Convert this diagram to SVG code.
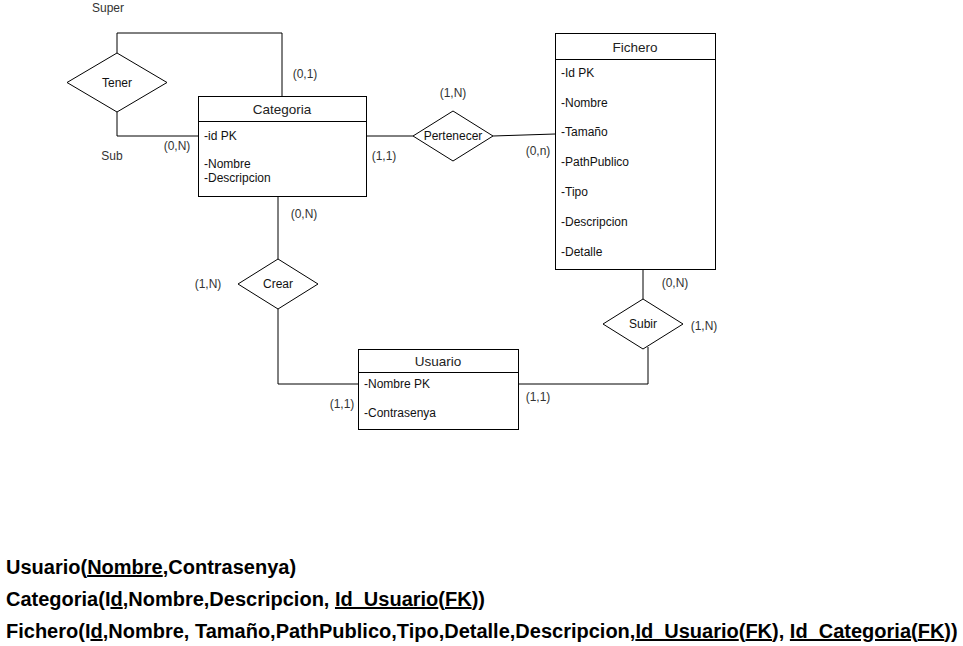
<svg xmlns="http://www.w3.org/2000/svg" width="963" height="646" viewBox="0 0 963 646">
<style>
text{font-family:"Liberation Sans",Arial,sans-serif;fill:#000}
.box{fill:#fff;stroke:#000;stroke-width:1}
.rel{fill:#fff;stroke:#000;stroke-width:1}
.ln{fill:none;stroke:#000;stroke-width:1}
.t{font-size:13.5px;text-anchor:middle;fill:#222}
.a{font-size:12px;fill:#111}
.l{font-size:12px;fill:#333}
.c{text-anchor:middle}
.big{font-size:20px;font-weight:bold}
.u{text-decoration:underline}
</style>
<rect width="963" height="646" fill="#fff"/>
<g id="connectors">
<polyline class="ln" points="117,53 117,33 282,33 282,96"/>
<polyline class="ln" points="117,112 117,136 198,136"/>
<line class="ln" x1="366" y1="136" x2="413" y2="136"/>
<line class="ln" x1="493" y1="136" x2="555" y2="134"/>
<line class="ln" x1="278" y1="196" x2="278" y2="259"/>
<polyline class="ln" points="278,309 278,384 358,384"/>
<line class="ln" x1="643" y1="269" x2="643" y2="299"/>
<polyline class="ln" points="648,347 648,384 518,384"/>
</g>
<g id="categoria">
<rect class="box" x="198.5" y="96.5" width="168" height="100"/>
<line class="ln" x1="198.5" y1="121.5" x2="366.5" y2="121.5"/>
<text class="t" x="282" y="114">Categoria</text>
<text class="a" x="204" y="140">-id PK</text>
<text class="a" x="204" y="168">-Nombre</text>
<text class="a" x="204" y="182">-Descripcion</text>
</g>
<g id="fichero">
<rect class="box" x="555.5" y="33.5" width="160" height="236"/>
<line class="ln" x1="555.5" y1="59.5" x2="715.5" y2="59.5"/>
<text class="t" x="635" y="52">Fichero</text>
<text class="a" x="561" y="77">-Id PK</text>
<text class="a" x="561" y="107">-Nombre</text>
<text class="a" x="561" y="136">-Tamaño</text>
<text class="a" x="561" y="166">-PathPublico</text>
<text class="a" x="561" y="196">-Tipo</text>
<text class="a" x="561" y="226">-Descripcion</text>
<text class="a" x="561" y="256">-Detalle</text>
</g>
<g id="usuario">
<rect class="box" x="358.5" y="349.5" width="160" height="80"/>
<line class="ln" x1="358.5" y1="372.5" x2="518.5" y2="372.5"/>
<text class="t" x="438" y="366">Usuario</text>
<text class="a" x="364" y="388">-Nombre PK</text>
<text class="a" x="364" y="417">-Contrasenya</text>
</g>
<g id="tener">
<polygon class="rel" points="117,53 167,82.5 117,112 67,82.5"/>
<text class="a c" x="117" y="87">Tener</text>
</g>
<g id="pertenecer">
<polygon class="rel" points="453,111 493,136 453,161 413,136"/>
<text class="a c" x="453" y="140">Pertenecer</text>
</g>
<g id="crear">
<polygon class="rel" points="278,259 318,284 278,309 238,284"/>
<text class="a c" x="278" y="288">Crear</text>
</g>
<g id="subir">
<polygon class="rel" points="643,299 683,324 643,349 603,324"/>
<text class="a c" x="643" y="328">Subir</text>
</g>
<g id="labels">
<text class="l c" x="108" y="12">Super</text>
<text class="l c" x="112" y="160">Sub</text>
<text class="l c" x="305" y="78">(0,1)</text>
<text class="l c" x="177" y="150">(0,N)</text>
<text class="l c" x="453" y="97">(1,N)</text>
<text class="l c" x="384" y="160">(1,1)</text>
<text class="l c" x="538" y="155">(0,n)</text>
<text class="l c" x="304" y="218">(0,N)</text>
<text class="l c" x="208" y="288">(1,N)</text>
<text class="l c" x="342" y="408">(1,1)</text>
<text class="l c" x="538" y="401">(1,1)</text>
<text class="l c" x="675" y="287">(0,N)</text>
<text class="l c" x="704" y="330">(1,N)</text>
</g>
<g id="schema">
<text class="big" x="6" y="574">Usuario(<tspan class="u">Nombre</tspan>,Contrasenya)</text>
<text class="big" x="6" y="606">Categoria(I<tspan class="u">d</tspan>,Nombre,Descripcion, <tspan class="u">Id_Usuario</tspan>(<tspan class="u">FK</tspan>))</text>
<text class="big" x="6" y="638">Fichero(I<tspan class="u">d</tspan>,Nombre, Tamaño,PathPublico,Tipo,Detalle,Descripcion,<tspan class="u">Id_Usuario</tspan>(<tspan class="u">FK</tspan>), <tspan class="u">Id_Categoria</tspan>(<tspan class="u">FK</tspan>))</text>
</g>
</svg>
